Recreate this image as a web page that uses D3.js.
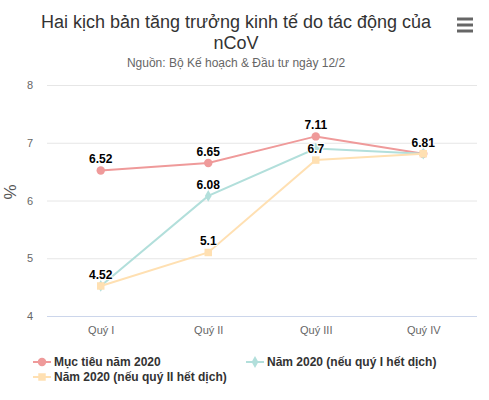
<!DOCTYPE html>
<html>
<head>
<meta charset="utf-8">
<script src="https://cdn.jsdelivr.net/npm/d3@7"></script>
<style>
  body { margin: 0; background: #fff; }
  svg { font-family: "Liberation Sans", Arial, sans-serif; }
</style>
</head>
<body>
<div id="vis"></div>
<script>
// data
const QUARTERS = ["Quý I", "Quý II", "Quý III", "Quý IV"];
const Y_TICKS = [4, 5, 6, 7, 8];
const SERIES_NAMES = ["Mục tiêu năm 2020", "Năm 2020 (nếu quý I hết dịch)", "Năm 2020 (nếu quý II hết dịch)"];
const TARGET = [6.52, 6.65, 7.11, 6.81];
const Q1_END = [4.52, 6.08, 6.9, 6.81];
const Q2_END = [4.52, 5.1, 6.7, 6.81];

const COLORS = ["#ef9a9a", "#b2dfdb", "#ffe0b2"];
const SYMBOLS = [d3.symbolCircle, d3.symbolDiamond, d3.symbolSquare];

const FRAME_WIDTH = 489;
const FRAME_HEIGHT = 400;
const PLOT = {left: 47, right: 477, top: 85, bottom: 316};

const FRAME = d3.select("#vis")
                .append("svg")
                  .attr("width", FRAME_WIDTH)
                  .attr("height", FRAME_HEIGHT);

const X_SCALE = d3.scalePoint()
                  .domain(QUARTERS)
                  .range([PLOT.left, PLOT.right])
                  .padding(0.5);

const Y_SCALE = d3.scaleLinear()
                  .domain([4, 8])
                  .range([PLOT.bottom, PLOT.top]);

// title + subtitle
const TITLE = FRAME.append("text")
    .attr("x", 236)
    .attr("y", 28)
    .attr("text-anchor", "middle")
    .attr("font-size", "18px")
    .attr("fill", "#333");
TITLE.append("tspan").attr("x", 236).text("Hai kịch bản tăng trưởng kinh tế do tác động của");
TITLE.append("tspan").attr("x", 236).attr("dy", 21).text("nCoV");

FRAME.append("text")
    .attr("x", 236)
    .attr("y", 67)
    .attr("text-anchor", "middle")
    .attr("font-size", "12px")
    .attr("fill", "#666")
    .text("Nguồn: Bộ Kế hoạch & Đầu tư ngày 12/2");

// menu icon
[19, 25, 31].forEach((y) => {
    FRAME.append("line")
        .attr("x1", 457).attr("x2", 473)
        .attr("y1", y).attr("y2", y)
        .attr("stroke", "#666")
        .attr("stroke-width", 3);
});

// grid + y axis
const yAxis = FRAME.append("g")
    .attr("transform", "translate(" + PLOT.left + ",0)")
    .call(d3.axisLeft(Y_SCALE).tickValues(Y_TICKS).tickFormat(d3.format("d"))
            .tickSize(-(PLOT.right - PLOT.left)).tickPadding(14));
yAxis.select(".domain").remove();
yAxis.selectAll(".tick line").attr("stroke", "#e6e6e6");
yAxis.selectAll(".tick text")
    .attr("fill", "#666")
    .attr("font-size", "11px")
    .attr("font-family", "Liberation Sans, Arial, sans-serif");

FRAME.append("text")
    .attr("transform", "translate(16,192) rotate(-90)")
    .attr("text-anchor", "middle")
    .attr("font-size", "17px")
    .attr("fill", "#555")
    .text("%");

// x axis
const xAxis = FRAME.append("g")
    .attr("transform", "translate(0," + PLOT.bottom + ")")
    .call(d3.axisBottom(X_SCALE).tickSize(0).tickPadding(10));
xAxis.select(".domain")
    .attr("d", "M" + PLOT.left + ",0.5H" + PLOT.right)
    .attr("stroke", "#ccd6eb");
xAxis.selectAll(".tick text")
    .attr("fill", "#666")
    .attr("font-size", "11px")
    .attr("font-family", "Liberation Sans, Arial, sans-serif");

// lines + markers
const ALL = [TARGET, Q1_END, Q2_END];
const line = d3.line()
    .x((d, i) => X_SCALE(QUARTERS[i]))
    .y((d) => Y_SCALE(d));

ALL.forEach((vals, s) => {
    FRAME.append("path")
        .datum(vals)
        .attr("d", line)
        .attr("fill", "none")
        .attr("stroke", COLORS[s])
        .attr("stroke-width", 2);

    FRAME.selectAll(".pt" + s)
        .data(vals)
        .enter()
        .append("path")
          .attr("class", "pt" + s)
          .attr("d", d3.symbol().type(SYMBOLS[s]).size(s == 1 ? 40 : 56))
          .attr("transform", (d, i) => "translate(" + X_SCALE(QUARTERS[i]) + "," + Y_SCALE(d) + ")")
          .attr("fill", COLORS[s]);
});

// data labels, skip any that would collide with an earlier one
const placed = [];
const labelLayer = FRAME.append("g");
ALL.forEach((vals, s) => {
    vals.forEach((d, i) => {
        const x = X_SCALE(QUARTERS[i]);
        const y = Y_SCALE(d) - 7;
        const box = {x0: x - 16, x1: x + 16, y0: y - 14, y1: y + 3};
        const hit = placed.some((b) => !(box.x1 < b.x0 || box.x0 > b.x1 || box.y1 < b.y0 || box.y0 > b.y1));
        if (hit) return;
        placed.push(box);
        labelLayer.append("text")
            .attr("x", x)
            .attr("y", y)
            .attr("text-anchor", "middle")
            .attr("font-size", "12px")
            .attr("font-weight", "bold")
            .attr("fill", "#000")
            .attr("stroke", "#fff")
            .attr("stroke-width", 2)
            .attr("paint-order", "stroke")
            .text(d);
    });
});

// legend
const LEGEND_POS = [[33, 362], [246, 362], [33, 377]];
SERIES_NAMES.forEach((name, s) => {
    const [lx, ly] = LEGEND_POS[s];
    const g = FRAME.append("g").attr("transform", "translate(" + lx + "," + ly + ")");
    g.append("line")
        .attr("x1", 0).attr("x2", 18)
        .attr("y1", 0).attr("y2", 0)
        .attr("stroke", COLORS[s])
        .attr("stroke-width", 2);
    g.append("path")
        .attr("d", d3.symbol().type(SYMBOLS[s]).size(s == 1 ? 40 : 56))
        .attr("transform", "translate(9,0)")
        .attr("fill", COLORS[s]);
    g.append("text")
        .attr("x", 21)
        .attr("y", 4)
        .attr("font-size", "12px")
        .attr("font-weight", "bold")
        .attr("fill", "#333")
        .text(name);
});
</script>
</body>
</html>
